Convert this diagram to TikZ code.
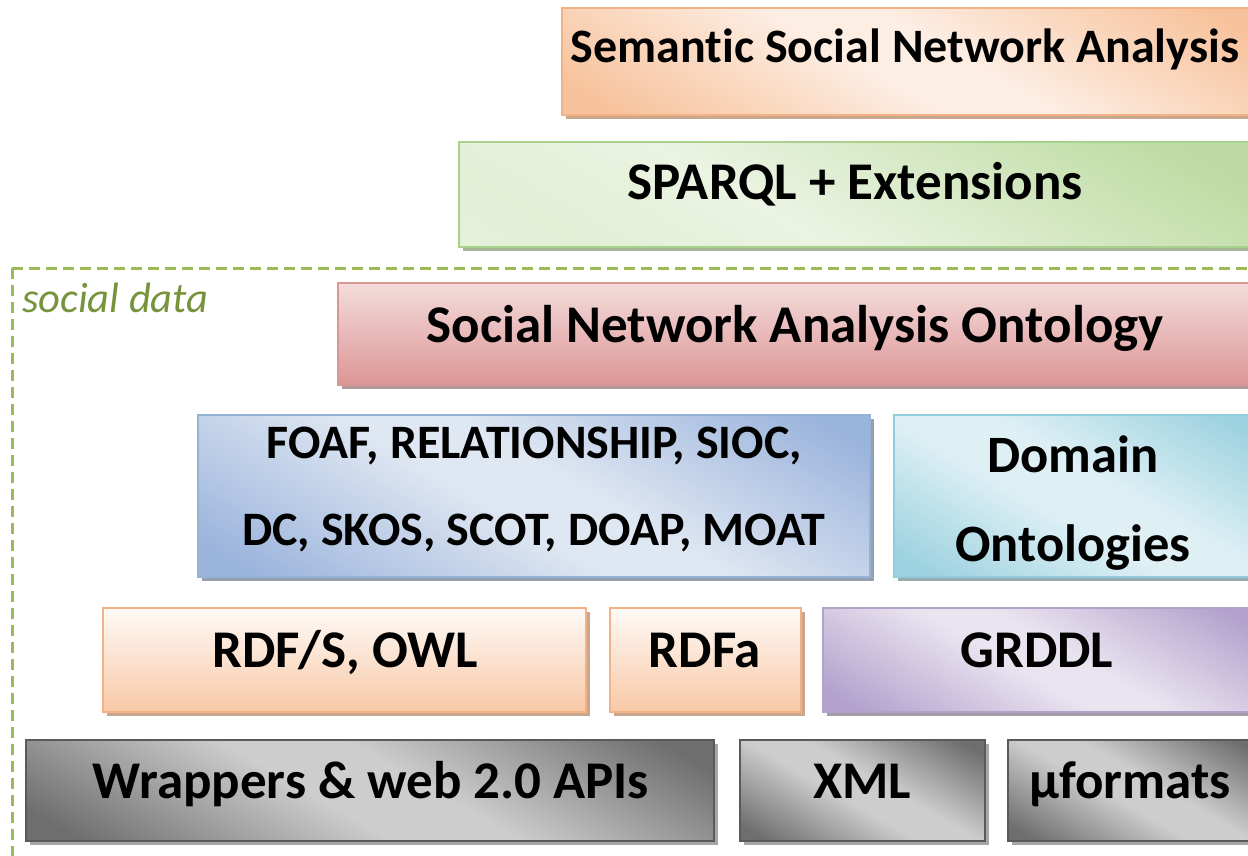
\documentclass[tikz,border=0pt]{standalone}
\usepackage{fontspec}
\setmainfont{Carlito}[Ligatures={NoCommon}]
\usetikzlibrary{shadows,fit}

% palette
\definecolor{orgB}{HTML}{F4B183}\definecolor{orgD}{HTML}{F7C29B}\definecolor{orgL}{HTML}{FDEEE4}\definecolor{orgS}{HTML}{C9A78E}
\definecolor{grnB}{HTML}{A9D18E}\definecolor{grnD}{HTML}{BDDBA2}\definecolor{grnL}{HTML}{EBF4E2}\definecolor{grnS}{HTML}{A3B597}
\definecolor{redB}{HTML}{DA9694}\definecolor{redD}{HTML}{DD9595}\definecolor{redL}{HTML}{F4DCDC}\definecolor{redS}{HTML}{B39A9A}
\definecolor{bluB}{HTML}{95B3D7}\definecolor{bluD}{HTML}{9BB4DC}\definecolor{bluL}{HTML}{DFE7F2}\definecolor{bluS}{HTML}{96A0AE}
\definecolor{cyaB}{HTML}{93CDDD}\definecolor{cyaD}{HTML}{9DD2E0}\definecolor{cyaL}{HTML}{DFF0F5}\definecolor{cyaS}{HTML}{98ABB0}
\definecolor{purB}{HTML}{B3A2C7}\definecolor{purD}{HTML}{B2A2CD}\definecolor{purL}{HTML}{EAE4F0}\definecolor{purS}{HTML}{A29DA8}
\definecolor{gryB}{HTML}{5A5A5A}\definecolor{gryD}{HTML}{6E6E6E}\definecolor{gryL}{HTML}{CDCDCD}\definecolor{gryS}{HTML}{A6A6A6}
\definecolor{dashG}{HTML}{9BBB59}\definecolor{labG}{HTML}{77933C}

% diagonal bands: darker edges, soft light middle (box spans 25bp..75bp)
\pgfdeclarehorizontalshading{orgsh}{100bp}{color(0bp)=(orgD); color(20bp)=(orgD); color(46bp)=(orgL); color(54bp)=(orgL); color(80bp)=(orgD); color(100bp)=(orgD)}
\pgfdeclarehorizontalshading{grnsh}{100bp}{color(0bp)=(grnL); color(25bp)=(grnL!80!grnD); color(42bp)=(grnL); color(78bp)=(grnD); color(100bp)=(grnD)}
\pgfdeclarehorizontalshading{blush}{100bp}{color(0bp)=(bluD); color(20bp)=(bluD); color(46bp)=(bluL); color(54bp)=(bluL); color(80bp)=(bluD); color(100bp)=(bluD)}
\pgfdeclarehorizontalshading{cyash}{100bp}{color(0bp)=(cyaD); color(20bp)=(cyaD); color(45bp)=(cyaL); color(55bp)=(cyaL); color(80bp)=(cyaD); color(100bp)=(cyaD)}
\pgfdeclarehorizontalshading{pursh}{100bp}{color(0bp)=(purD); color(20bp)=(purD); color(46bp)=(purL); color(54bp)=(purL); color(80bp)=(purD); color(100bp)=(purD)}
\pgfdeclarehorizontalshading{grysh}{100bp}{color(0bp)=(gryD); color(20bp)=(gryD); color(45bp)=(gryL); color(55bp)=(gryL); color(80bp)=(gryD); color(100bp)=(gryD)}

\tikzset{
  layer/.style n args={3}{draw=#1, line width=1.2pt, inner sep=0pt,
    shading=#2, shading angle=60,
    general shadow={fill=#3, shadow xshift=4pt, shadow yshift=-4pt}},
  orgbox/.style={layer={orgB}{orgsh}{orgS}},
  grnbox/.style={layer={grnB}{grnsh}{grnS}},
  redbox/.style={draw=redB, line width=1.2pt, inner sep=0pt,
    top color=redL, bottom color=redD, shading angle=0,
    general shadow={fill=redS, shadow xshift=4pt, shadow yshift=-4pt}},
  blubox/.style={layer={bluB}{blush}{bluS}},
  cyabox/.style={layer={cyaB}{cyash}{cyaS}},
  lorgbox/.style={draw=orgB, line width=1.2pt, inner sep=0pt,
    top color=white!70!orgL, bottom color=orgD!85!orgL, shading angle=0,
    general shadow={fill=orgS, shadow xshift=4pt, shadow yshift=-4pt}},
  purbox/.style={layer={purB}{pursh}{purS}},
  grybox/.style={layer={gryB}{grysh}{gryS}},
  lbl/.style={anchor=base, font=\bfseries\fontsize{#1}{#1}\selectfont, inner sep=0pt},
}

\begin{document}
\begin{tikzpicture}[x=1pt, y=-1pt]
  \useasboundingbox (0,0) rectangle (1248,855);
  \clip (0,0) rectangle (1248,855);

  % social data frame
  \draw[dashG, line width=3pt, dash pattern=on 11pt off 6pt] (12,268) coordinate (fr) -- (1260,268) -- (1260,870) -- (12,870) -- cycle;
  \node[anchor=base west, inner sep=0pt, text=labG, font=\itshape\fontsize{42.5}{42.5}\selectfont] (soc) at (22,312) {social data};

  % top layers
  \node[orgbox, fit={(562,8) (1262,115)}] (ssna) {};
  \node[lbl=48] (ssnat) at (905,62) {Semantic Social Network Analysis};

  \node[grnbox, fit={(459,142) (1262,247)}] (sparql) {};
  \node[lbl=53] (sparqlt) at (855,199) {SPARQL + Extensions};

  \node[redbox, fit={(338,283) (1262,385)}] (snao) {};
  \node[lbl=53] (snaot) at (795,342) {Social Network Analysis Ontology};

  % vocabularies
  \node[blubox, fit={(198,415) (870,577)}] (voc) {};
  \node[lbl=48] (voct1) at (534,458) {FOAF, RELATIONSHIP, SIOC,};
  \node[lbl=48] (voct2) at (534,545) {DC, SKOS, SCOT, DOAP, MOAT};

  \node[cyabox, fit={(894,415) (1262,577)}] (dom) {};
  \node[lbl=52.5] (domt1) at (1073,472) {Domain};
  \node[lbl=52.5] (domt2) at (1073,561) {Ontologies};

  % representation
  \node[lorgbox, fit={(103,608) (586,712)}] (rdfs) {};
  \node[lbl=53] (rdfst) at (345,667) {RDF/S, OWL};

  \node[lorgbox, fit={(610,608) (801,712)}] (rdfa) {};
  \node[lbl=53] (rdfat) at (705,667) {RDFa};

  \node[purbox, fit={(823,608) (1262,712)}] (grddl) {};
  \node[lbl=53] (grddlt) at (1037,667) {GRDDL};

  % sources
  \node[grybox, fit={(26,740) (714,841)}] (wrap) {};
  \node[lbl=53] (wrapt) at (371,798) {Wrappers \& web 2.0 APIs};

  \node[grybox, fit={(740,740) (985,841)}] (xml) {};
  \node[lbl=53] (xmlt) at (862,798) {XML};

  \node[grybox, fit={(1008,740) (1262,841)}] (uf) {};
  \node[lbl=53] (uft) at (1130,798) {µformats};
\end{tikzpicture}
\end{document}
